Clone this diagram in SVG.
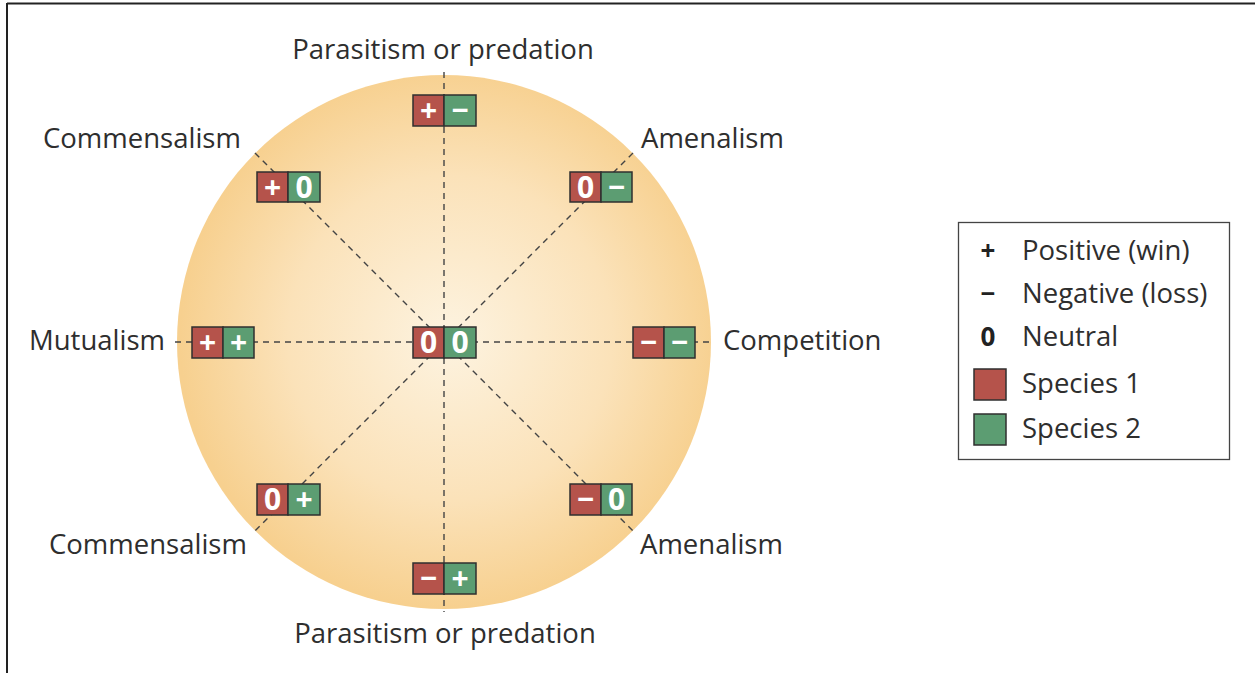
<svg xmlns="http://www.w3.org/2000/svg" width="1255" height="673" viewBox="0 0 1255 673">
  <defs>
    <radialGradient id="disc" cx="450" cy="338" r="270" gradientUnits="userSpaceOnUse">
      <stop offset="0" stop-color="#fdf3e0"/>
      <stop offset="0.6" stop-color="#fbe2b9"/>
      <stop offset="1" stop-color="#f7d08f"/>
    </radialGradient>
    <style>
      .lbl { font-family: "Open Sans", Lato, "Liberation Sans", sans-serif; font-size: 27.5px; fill: #2e2e2e; }
      .s1 { fill: #b5534b; stroke: #2f2f2f; stroke-width: 1.5; }
      .s2 { fill: #5c9d72; stroke: #2f2f2f; stroke-width: 1.5; }
      .sym { font-family: "Open Sans", Lato, "Liberation Sans", sans-serif; font-size: 30px; font-weight: bold; fill: #fff; text-anchor: middle; }
      .dash { stroke: #444; stroke-width: 1.4; stroke-dasharray: 6 5; fill: none; }
      .key { font-family: "Open Sans", Lato, "Liberation Sans", sans-serif; font-size: 26px; font-weight: bold; fill: #222; text-anchor: middle; }
    </style>
  </defs>

  <rect width="1255" height="673" fill="#fff"/>
  <!-- frame edges -->
  <line x1="7" y1="3.5" x2="1255" y2="3.5" stroke="#222" stroke-width="2"/>
  <line x1="7" y1="3" x2="7" y2="673" stroke="#222" stroke-width="2"/>

  <!-- interaction disc -->
  <circle cx="444" cy="342" r="267" fill="url(#disc)"/>

  <!-- axes -->
  <g id="connectors">
    <line class="dash" x1="444" y1="72" x2="444" y2="612"/>
    <line class="dash" x1="175" y1="342" x2="713" y2="342"/>
    <line class="dash" x1="255" y1="153" x2="633" y2="531"/>
    <line class="dash" x1="633" y1="153" x2="255" y2="531"/>
  </g>

  <!-- outcome pairs -->
  <g id="top-parasitism">
    <rect class="s1" x="413" y="95" width="31" height="31"/><rect class="s2" x="444" y="95" width="32" height="31"/>
    <text class="sym" x="428.5" y="121">+</text><text class="sym" x="460" y="121">−</text>
    <text class="lbl" x="443" y="59" text-anchor="middle">Parasitism or predation</text>
  </g>
  <g id="top-left-commensalism">
    <rect class="s1" x="257" y="172" width="31" height="30"/><rect class="s2" x="288" y="172" width="32" height="30"/>
    <text class="sym" x="272.5" y="198">+</text><text class="sym" x="304" y="198">0</text>
    <text class="lbl" x="43" y="148">Commensalism</text>
  </g>
  <g id="top-right-amenalism">
    <rect class="s1" x="570" y="172" width="31" height="30"/><rect class="s2" x="601" y="172" width="31" height="30"/>
    <text class="sym" x="585.5" y="198">0</text><text class="sym" x="616.5" y="198">−</text>
    <text class="lbl" x="641" y="148">Amenalism</text>
  </g>
  <g id="left-mutualism">
    <rect class="s1" x="192" y="327" width="31" height="31"/><rect class="s2" x="223" y="327" width="31" height="31"/>
    <text class="sym" x="207.5" y="353">+</text><text class="sym" x="238.5" y="353">+</text>
    <text class="lbl" x="29" y="350">Mutualism</text>
  </g>
  <g id="center-neutral">
    <rect class="s1" x="413" y="327" width="31" height="31"/><rect class="s2" x="444" y="327" width="32" height="31"/>
    <text class="sym" x="428.5" y="353">0</text><text class="sym" x="460" y="353">0</text>
  </g>
  <g id="right-competition">
    <rect class="s1" x="633" y="327" width="31" height="31"/><rect class="s2" x="664" y="327" width="31" height="31"/>
    <text class="sym" x="648.5" y="353">−</text><text class="sym" x="679.5" y="353">−</text>
    <text class="lbl" x="723" y="350">Competition</text>
  </g>
  <g id="bottom-left-commensalism">
    <rect class="s1" x="257" y="484" width="31" height="31"/><rect class="s2" x="288" y="484" width="32" height="31"/>
    <text class="sym" x="272.5" y="510">0</text><text class="sym" x="304" y="510">+</text>
    <text class="lbl" x="49" y="554">Commensalism</text>
  </g>
  <g id="bottom-right-amenalism">
    <rect class="s1" x="570" y="484" width="31" height="31"/><rect class="s2" x="601" y="484" width="31" height="31"/>
    <text class="sym" x="585.5" y="510">−</text><text class="sym" x="616.5" y="510">0</text>
    <text class="lbl" x="640" y="554">Amenalism</text>
  </g>
  <g id="bottom-parasitism">
    <rect class="s1" x="413" y="563" width="31" height="31"/><rect class="s2" x="444" y="563" width="32" height="31"/>
    <text class="sym" x="428.5" y="589">−</text><text class="sym" x="460" y="589">+</text>
    <text class="lbl" x="445" y="643" text-anchor="middle">Parasitism or predation</text>
  </g>

  <!-- key -->
  <g id="legend">
    <rect x="958.5" y="222.5" width="271" height="237" fill="#fff" stroke="#444" stroke-width="1.3"/>
    <text class="key" x="988" y="260">+</text><text class="lbl" x="1022" y="260">Positive (win)</text>
    <text class="key" x="988" y="303">−</text><text class="lbl" x="1022" y="303">Negative (loss)</text>
    <text class="key" x="988" y="346">0</text><text class="lbl" x="1022" y="346">Neutral</text>
    <rect class="s1" x="974" y="369" width="32" height="31"/><text class="lbl" x="1022" y="393">Species 1</text>
    <rect class="s2" x="974" y="414" width="32" height="31"/><text class="lbl" x="1022" y="438">Species 2</text>
  </g>
</svg>
